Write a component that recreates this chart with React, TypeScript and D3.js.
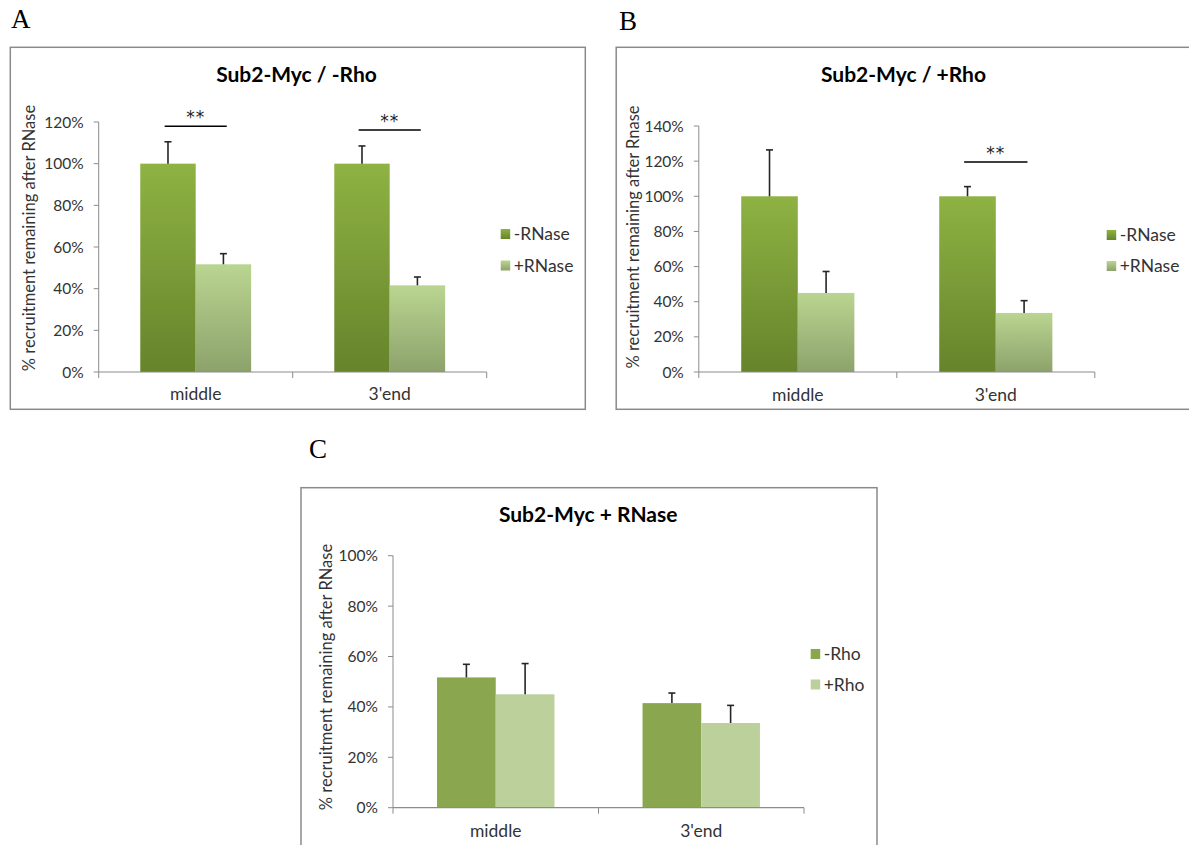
import React from 'react';
import * as d3 from 'd3';

// ---------- data ----------
const categories = ['middle', "3'end"];
const seriesAB = ['-RNase', '+RNase'];
const seriesC = ['-Rho', '+Rho'];

const aMinusRNase = [100, 100];
const aMinusRNaseErr = [10.5, 8.5];
const aPlusRNase = [51.7, 41.6];
const aPlusRNaseErr = [5.1, 4.0];

const bMinusRNase = [100, 100];
const bMinusRNaseErr = [26.4, 5.5];
const bPlusRNase = [45.0, 33.6];
const bPlusRNaseErr = [12.2, 7.0];

const cMinusRho = [51.7, 41.5];
const cMinusRhoErr = [5.2, 4.0];
const cPlusRho = [45.0, 33.6];
const cPlusRhoErr = [12.2, 7.0];

const ticksA = [0, 20, 40, 60, 80, 100, 120];
const ticksB = [0, 20, 40, 60, 80, 100, 120, 140];
const ticksC = [0, 20, 40, 60, 80, 100];

const sigA = [
  { category: 'middle', level: 118, label: '**' },
  { category: "3'end", level: 116.2, label: '**' },
];
const sigB = [{ category: "3'end", level: 119.5, label: '**' }];
const sigC: { category: string; level: number; label: string }[] = [];

const FONT = 'Lato, "Open Sans", sans-serif';

type Series = { name: string; values: number[]; errs: number[]; fill: string };

type PanelProps = {
  frame: { x: number; y: number; w: number; h: number };
  letter: { text: string; x: number; y: number };
  title: { text: string; x: number; y: number };
  plot: { x0: number; x1: number; y0: number; y1: number };
  yMax: number;
  ticks: number[];
  series: Series[];
  sigs: { category: string; level: number; label: string }[];
  legend: { x: number; y: number; gap: number };
  yTitle: { text: string; x: number; y: number };
  xLabelY: number;
};

function Panel(p: PanelProps) {
  const x0 = d3
    .scaleBand<string>()
    .domain(categories)
    .range([p.plot.x0, p.plot.x1])
    .paddingInner(0)
    .paddingOuter(0);
  const x1 = d3
    .scaleBand<string>()
    .domain(p.series.map((s) => s.name))
    .range([0, x0.bandwidth()])
    .paddingInner(0)
    .paddingOuter(0.75);
  const y = d3.scaleLinear().domain([0, p.yMax]).range([p.plot.y0, p.plot.y1]);
  const axisColor = '#8c8c8c';
  const bounds = [p.plot.x0, ...categories.map((c) => (x0(c) as number) + x0.bandwidth())];
  return (
    <g>
      <text x={p.letter.x} y={p.letter.y} fontFamily='"Liberation Serif", "Times New Roman", serif' fontSize={27} fill="#000">
        {p.letter.text}
      </text>
      <rect x={p.frame.x} y={p.frame.y} width={p.frame.w} height={p.frame.h} fill="#fff" stroke="#8a8a8a" strokeWidth={1.5} />
      <text x={p.title.x} y={p.title.y} textAnchor="middle" fontFamily={FONT} fontWeight="bold" fontSize={21} fill="#000">
        {p.title.text}
      </text>
      {/* y axis */}
      <line x1={p.plot.x0} x2={p.plot.x0} y1={y(0)} y2={y(p.yMax)} stroke={axisColor} strokeWidth={1} />
      {p.ticks.map((t) => (
        <g key={t}>
          <line x1={p.plot.x0 - 5} x2={p.plot.x0} y1={y(t)} y2={y(t)} stroke={axisColor} strokeWidth={1} />
          <text x={p.plot.x0 - 15} y={y(t) + 5.5} textAnchor="end" fontFamily={FONT} fontSize={15.5} fill="#333">
            {t + '%'}
          </text>
        </g>
      ))}
      <text
        transform={`translate(${p.yTitle.x},${p.yTitle.y}) rotate(-90)`}
        textAnchor="middle"
        fontFamily={FONT}
        fontSize={16.5}
        fill="#333"
      >
        {p.yTitle.text}
      </text>
      {/* bars */}
      {p.series.map((s) =>
        categories.map((c, i) => {
          const bx = (x0(c) as number) + (x1(s.name) as number);
          const bw = x1.bandwidth();
          return (
            <rect key={s.name + c} x={bx} y={y(s.values[i])} width={bw} height={y(0) - y(s.values[i])} fill={s.fill} />
          );
        })
      )}
      {/* error bars */}
      {p.series.map((s) =>
        categories.map((c, i) => {
          const cx = (x0(c) as number) + (x1(s.name) as number) + x1.bandwidth() / 2;
          const top = y(s.values[i] + s.errs[i]);
          return (
            <g key={'e' + s.name + c} stroke="#262626" strokeWidth={1.6}>
              <line x1={cx} x2={cx} y1={y(s.values[i])} y2={top} />
              <line x1={cx - 3.5} x2={cx + 3.5} y1={top} y2={top} />
            </g>
          );
        })
      )}
      {/* x axis */}
      <line x1={p.plot.x0} x2={p.plot.x1} y1={y(0)} y2={y(0)} stroke={axisColor} strokeWidth={1.2} />
      {bounds.map((bx, i) => (
        <line key={'xt' + i} x1={bx} x2={bx} y1={y(0)} y2={y(0) + 6} stroke={axisColor} strokeWidth={1} />
      ))}
      {categories.map((c) => (
        <text
          key={'xl' + c}
          x={(x0(c) as number) + x0.bandwidth() / 2}
          y={p.xLabelY}
          textAnchor="middle"
          fontFamily={FONT}
          fontSize={17.5}
          fill="#333"
        >
          {c}
        </text>
      ))}
      {/* significance */}
      {p.sigs.map((s) => {
        const cx = (x0(s.category) as number) + x0.bandwidth() / 2;
        const half = x1.bandwidth() * 0.56;
        return (
          <g key={'sig' + s.category}>
            <line x1={cx - half} x2={cx + half} y1={y(s.level)} y2={y(s.level)} stroke="#000" strokeWidth={1.5} />
            <text
              x={cx}
              y={y(s.level) - 3}
              textAnchor="middle"
              fontFamily='"DejaVu Sans", sans-serif'
              fontSize={17}
              letterSpacing={1}
              fill="#222"
            >
              {s.label}
            </text>
          </g>
        );
      })}
      {/* legend */}
      {p.series.map((s, i) => (
        <g key={'lg' + s.name}>
          <rect x={p.legend.x} y={p.legend.y + i * p.legend.gap} width={9.5} height={10} fill={s.fill} />
          <text x={p.legend.x + 13} y={p.legend.y + i * p.legend.gap + 11} fontFamily={FONT} fontSize={17.5} fill="#333">
            {s.name}
          </text>
        </g>
      ))}
    </g>
  );
}

export default function App() {
  const dark = 'url(#gDark)';
  const light = 'url(#gLight)';
  return (
    <svg width={1189} height={845} style={{ position: 'absolute', left: 0, top: 0, background: '#fff' }}>
      <defs>
        <linearGradient id="gDark" x1="0" y1="0" x2="0" y2="1">
          <stop offset="0" stopColor="#8eb243" />
          <stop offset="1" stopColor="#66842b" />
        </linearGradient>
        <linearGradient id="gLight" x1="0" y1="0" x2="0" y2="1">
          <stop offset="0" stopColor="#bad591" />
          <stop offset="1" stopColor="#8ca26b" />
        </linearGradient>
      </defs>
      <rect x={0} y={0} width={1189} height={845} fill="#fff" />
      <Panel
        frame={{ x: 10.3, y: 47.3, w: 575, h: 362 }}
        letter={{ text: 'A', x: 11, y: 27.5 }}
        title={{ text: 'Sub2-Myc / -Rho', x: 296.5, y: 82 }}
        plot={{ x0: 98.7, x1: 486.7, y0: 372, y1: 122 }}
        yMax={120}
        ticks={ticksA}
        series={[
          { name: seriesAB[0], values: aMinusRNase, errs: aMinusRNaseErr, fill: dark },
          { name: seriesAB[1], values: aPlusRNase, errs: aPlusRNaseErr, fill: light },
        ]}
        sigs={sigA}
        legend={{ x: 500.7, y: 229, gap: 31.5 }}
        yTitle={{ text: '% recruitment remaining after RNase', x: 35, y: 238 }}
        xLabelY={400}
      />
      <Panel
        frame={{ x: 616.2, y: 47.3, w: 600, h: 362 }}
        letter={{ text: 'B', x: 619, y: 30 }}
        title={{ text: 'Sub2-Myc / +Rho', x: 903.5, y: 82 }}
        plot={{ x0: 698.8, x1: 1094.8, y0: 372, y1: 126 }}
        yMax={140}
        ticks={ticksB}
        series={[
          { name: seriesAB[0], values: bMinusRNase, errs: bMinusRNaseErr, fill: dark },
          { name: seriesAB[1], values: bPlusRNase, errs: bPlusRNaseErr, fill: light },
        ]}
        sigs={sigB}
        legend={{ x: 1106.7, y: 230, gap: 31 }}
        yTitle={{ text: '% recruitment remaining after Rnase', x: 639, y: 237 }}
        xLabelY={401}
      />
      <Panel
        frame={{ x: 301, y: 487.7, w: 576, h: 400 }}
        letter={{ text: 'C', x: 309, y: 458.3 }}
        title={{ text: 'Sub2-Myc + RNase', x: 588.2, y: 521.7 }}
        plot={{ x0: 393, x1: 804, y0: 807.7, y1: 555.7 }}
        yMax={100}
        ticks={ticksC}
        series={[
          { name: seriesC[0], values: cMinusRho, errs: cMinusRhoErr, fill: '#8aa64f' },
          { name: seriesC[1], values: cPlusRho, errs: cPlusRhoErr, fill: '#bcd09b' },
        ]}
        sigs={sigC}
        legend={{ x: 810.7, y: 649, gap: 30.5 }}
        yTitle={{ text: '% recruitment remaining after RNase', x: 331.5, y: 677 }}
        xLabelY={836.5}
      />
    </svg>
  );
}
